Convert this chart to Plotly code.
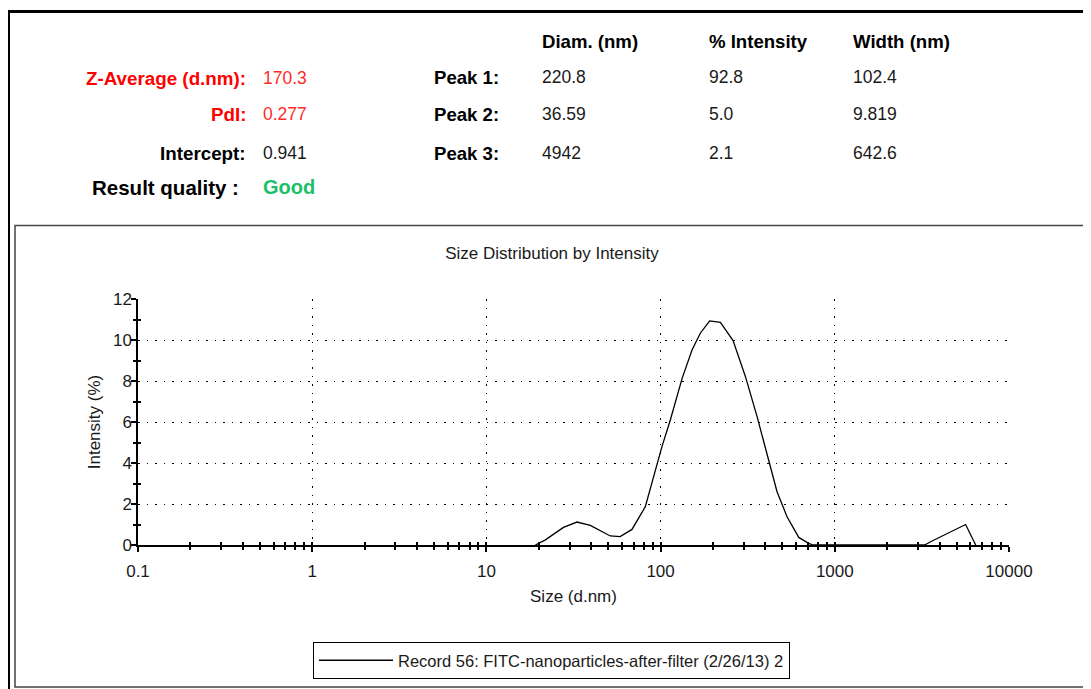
import plotly.graph_objects as go

# ---- data ----
size_nm = [19.1, 21.7, 27.7, 33.1, 39.5, 51.4, 58.6, 68.5, 81.7, 101.8, 113.7,
           132.9, 151.5, 169.0, 191.3, 220.5, 260.6, 307.0, 358.0, 408.0, 466.0,
           532.0, 621.0, 708.0, 750.0, 3280.0, 3545.0, 5636.0, 6440.0]
intensity_pct = [0, 0.24, 0.86, 1.12, 0.96, 0.44, 0.41, 0.76, 1.87, 4.8, 6.1,
                 8.13, 9.51, 10.33, 10.93, 10.86, 9.97, 8.21, 6.26, 4.47, 2.6,
                 1.38, 0.37, 0.08, 0, 0, 0.16, 1.0, 0.0]
x_tick_vals = [0.1, 1, 10, 100, 1000, 10000]
x_tick_text = ["0.1", "1", "10", "100", "1000", "10000"]
y_tick_vals = [0, 2, 4, 6, 8, 10, 12]
x_minor_vals = [m * d for d in [0.1, 1, 10, 100, 1000] for m in range(2, 10)]
y_minor_vals = [1, 3, 5, 7, 9, 11]

summary_labels = ["Z-Average (d.nm):", "PdI:", "Intercept:"]
summary_values = ["170.3", "0.277", "0.941"]
quality_label = "Result quality :"
quality_value = "Good"
peak_labels = ["Peak 1:", "Peak 2:", "Peak 3:"]
peak_headers = ["Diam. (nm)", "% Intensity", "Width (nm)"]
peak_diam = ["220.8", "36.59", "4942"]
peak_intensity = ["92.8", "5.0", "2.1"]
peak_width = ["102.4", "9.819", "642.6"]
legend_name = "Record 56: FITC-nanoparticles-after-filter (2/26/13) 2"

# ---- layout geometry (page pixel coordinates) ----
PAGE_W, PAGE_H = 1091, 689
OFF = 8  # default body margin of the html page
W, H = PAGE_W - OFF, PAGE_H - OFF
PL, PR, PT, PB = 138, 1009, 299, 545
FONT = "Liberation Sans, Arial, sans-serif"


def px(x):
    return (x - PL) / (PR - PL)


def py(y):
    return (PB - y) / (PB - PT)


fig = go.Figure()
fig.add_trace(go.Scatter(
    x=size_nm, y=intensity_pct, mode="lines", name=legend_name,
    line=dict(color="black", width=1.3), showlegend=True,
))
# empty trace that carries the overlay axes used for the inner half of the ticks
fig.add_trace(go.Scatter(x=[], y=[], xaxis="x2", yaxis="y2", showlegend=False,
                         hoverinfo="skip"))

ann = []
row_y = [78, 114, 153]
lab_colors = ["#FF0000", "#FF0000", "#000000"]
val_colors = ["#FF2B2B", "#FF2B2B", "#1a1a1a"]
for lab, val, yy, lc, vc in zip(summary_labels, summary_values, row_y, lab_colors, val_colors):
    ann.append(dict(text="<b>" + lab + "</b>", x=px(248), y=py(yy), xanchor="right",
                    yanchor="middle", font=dict(size=18.8, color=lc)))
    ann.append(dict(text=val, x=px(261), y=py(yy), xanchor="left",
                    yanchor="middle", font=dict(size=17.5, color=vc)))
ann.append(dict(text="<b>" + quality_label + "</b>", x=px(241), y=py(187), xanchor="right",
                yanchor="middle", font=dict(size=20.5, color="#000000")))
ann.append(dict(text="<b>" + quality_value + "</b>", x=px(261), y=py(187), xanchor="left",
                yanchor="middle", font=dict(size=20, color="#1DBF6A")))

peak_rows = [77, 114, 153]
for lab, yy in zip(peak_labels, peak_rows):
    ann.append(dict(text="<b>" + lab + "</b>", x=px(432), y=py(yy), xanchor="left",
                    yanchor="middle", font=dict(size=18.6, color="#000000")))
col_x = [540, 707, 851]
for hdr, cx in zip(peak_headers, col_x):
    ann.append(dict(text="<b>" + hdr + "</b>", x=px(cx), y=py(41), xanchor="left",
                    yanchor="middle", font=dict(size=18.6, color="#000000")))
for col, cx in zip([peak_diam, peak_intensity, peak_width], col_x):
    for v, yy in zip(col, peak_rows):
        ann.append(dict(text=v, x=px(cx), y=py(yy), xanchor="left",
                        yanchor="middle", font=dict(size=17.5, color="#1a1a1a")))

for a in ann:
    a.update(xref="paper", yref="paper", showarrow=False)

shapes = [
    # outer frame (top and left edges)
    dict(type="line", xref="paper", yref="paper", x0=px(7), x1=px(1100), y0=py(11.5), y1=py(11.5),
         line=dict(color="black", width=3)),
    dict(type="line", xref="paper", yref="paper", x0=px(8.5), x1=px(8.5), y0=py(10), y1=py(700),
         line=dict(color="black", width=3)),
    # chart panel frame
    dict(type="rect", xref="paper", yref="paper", x0=px(15), x1=px(1089.5), y0=py(225.5), y1=py(687),
         line=dict(color="#444444", width=1.5)),
]

fig.update_layout(
    width=W, height=H,
    margin=dict(l=PL - OFF, r=W - (PR - OFF), t=PT - OFF, b=H - (PB - OFF), autoexpand=False),
    paper_bgcolor="white", plot_bgcolor="white",
    font=dict(family=FONT, size=17, color="#1a1a1a"),
    title=dict(text="Size Distribution by Intensity", x=px(552), xref="paper", xanchor="center",
               y=1 - (253 - OFF) / H, yref="container", yanchor="middle",
               font=dict(size=17, color="#1a1a1a")),
    xaxis=dict(
        type="log", range=[-1, 4], tickvals=x_tick_vals, ticktext=x_tick_text,
        showline=True, linecolor="black", linewidth=2,
        ticks="outside", ticklen=5, tickcolor="black", tickwidth=1.5,
        showgrid=True, gridcolor="#000000", gridwidth=1.3, griddash="1.5px,7px",
        zeroline=False, ticklabelstandoff=5, automargin=False,
        minor=dict(tickvals=x_minor_vals, ticks="outside", ticklen=3, tickcolor="black",
                   tickwidth=1.5, showgrid=False),
        title=dict(text="Size (d.nm)", standoff=10, font=dict(size=17)),
        tickfont=dict(size=17),
    ),
    yaxis=dict(
        range=[0, 12], tickvals=y_tick_vals,
        showline=True, linecolor="black", linewidth=1.5,
        ticks="outside", ticklen=5, tickcolor="black", tickwidth=1.5,
        showgrid=True, gridcolor="#000000", gridwidth=1.3, griddash="1.5px,7px",
        zeroline=False, ticklabelstandoff=-4, automargin=False,
        minor=dict(tickvals=y_minor_vals, ticks="outside", ticklen=3, tickcolor="black",
                   tickwidth=1.5, showgrid=False),
        title=dict(text="Intensity (%)", standoff=8, font=dict(size=17)),
        tickfont=dict(size=17),
    ),
    xaxis2=dict(
        type="log", range=[-1, 4], overlaying="x", anchor="y2", side="bottom",
        tickvals=x_tick_vals + x_minor_vals, ticks="inside", ticklen=3,
        tickcolor="black", tickwidth=1.5, showticklabels=False,
        showgrid=False, showline=False, zeroline=False, automargin=False,
    ),
    yaxis2=dict(
        range=[0, 12], overlaying="y", anchor="x2", side="left",
        tickvals=y_minor_vals, ticks="inside", ticklen=3,
        tickcolor="black", tickwidth=1.5, showticklabels=False,
        showgrid=False, showline=False, zeroline=False, automargin=False,
    ),
    legend=dict(
        x=px(551.5), y=py(642), xanchor="center", yanchor="top", orientation="h",
        bordercolor="black", borderwidth=1, bgcolor="white", itemwidth=74,
        font=dict(size=16.5, color="#1a1a1a"),
    ),
    annotations=ann,
    shapes=shapes,
)

fig.write_html("out.html")
